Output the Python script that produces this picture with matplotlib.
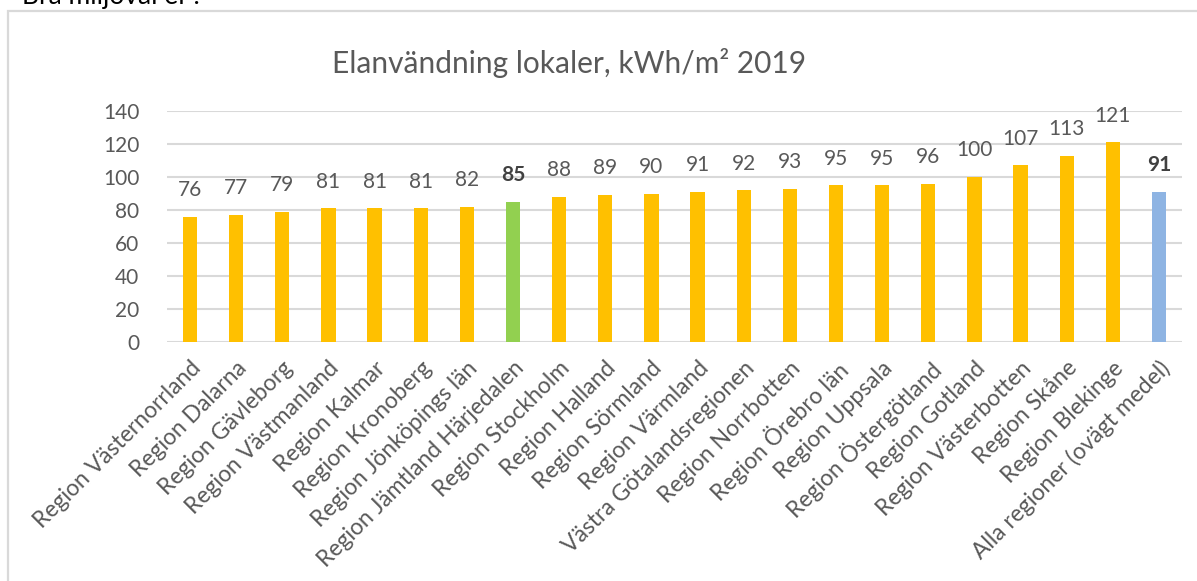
"""Elanvändning lokaler per region, 2019 (stapeldiagram i Excel-stil)."""
import matplotlib

matplotlib.use("Agg")
import matplotlib.pyplot as plt  # noqa: E402
from matplotlib.patches import Rectangle  # noqa: E402

regions = [
    "Region Västernorrland", "Region Dalarna", "Region Gävleborg",
    "Region Västmanland", "Region Kalmar", "Region Kronoberg",
    "Region Jönköpings län", "Region Jämtland Härjedalen", "Region Stockholm",
    "Region Halland", "Region Sörmland", "Region Värmland",
    "Västra Götalandsregionen", "Region Norrbotten", "Region Örebro län",
    "Region Uppsala", "Region Östergötland", "Region Gotland",
    "Region Västerbotten", "Region Skåne", "Region Blekinge",
    "Alla regioner (ovägt medel)",
]
values = [76, 77, 79, 81, 81, 81, 82, 85, 88, 89, 90, 91, 92, 93, 95, 95, 96,
          100, 107, 113, 121, 91]
highlight = {"Region Jämtland Härjedalen": "#92D050",
             "Alla regioner (ovägt medel)": "#8EB4E3"}
yticks = [0, 20, 40, 60, 80, 100, 120, 140]

GRAY = "#595959"
plt.rcParams["font.family"] = ["Lato", "DejaVu Sans"]

W, H = 1197, 581
fig = plt.figure(figsize=(W / 100, H / 100), dpi=100)

# ram runt diagrammet (Excel-ram) och avklippt rubrik ovanför
fig.patches.append(Rectangle((8 / W, -0.1), 2, 1 - 11 / H + 0.1, transform=fig.transFigure,
                             fill=False, edgecolor="#D9D9D9", linewidth=1.6))
fig.text(22 / W, 1 - 4 / H, "Bra miljöval el ?", fontsize=19, color="black",
         ha="left", va="baseline")

ax = fig.add_axes([167 / W, (H - 342) / H, 1015 / W, (342 - 111) / H])
colors = [highlight.get(r, "#FFC000") for r in regions]
x = range(len(regions))
ax.bar(x, values, width=0.31, color=colors, zorder=3)
ax.set_xlim(-0.5, len(regions) - 0.5)
ax.set_ylim(0, 140)
ax.set_yticks(yticks)
ax.yaxis.grid(True, color="#D9D9D9", linewidth=1.5, zorder=0)
for s in ax.spines.values():
    s.set_visible(False)
ax.tick_params(axis="both", length=0, labelsize=15, labelcolor=GRAY)
ax.tick_params(axis="y", pad=20)
ax.set_xticks(list(x))
ax.set_xticklabels(regions, rotation=45, ha="right", va="top", rotation_mode="anchor")
ax.tick_params(axis="x", pad=11, labelsize=16.5)

for i, (r, v) in enumerate(zip(regions, values)):
    bold = r in highlight
    ax.annotate(str(v), (i, v), xytext=(0, 12), textcoords="offset points",
                ha="center", va="bottom", fontsize=15,
                color="#404040" if bold else GRAY,
                fontweight="bold" if bold else "normal")

fig.text(569 / W, 1 - 73 / H, "Elanvändning lokaler, kWh/m² 2019", fontsize=21.5,
         color=GRAY, ha="center", va="baseline")

fig.savefig("out.png", dpi=100, facecolor="white")
